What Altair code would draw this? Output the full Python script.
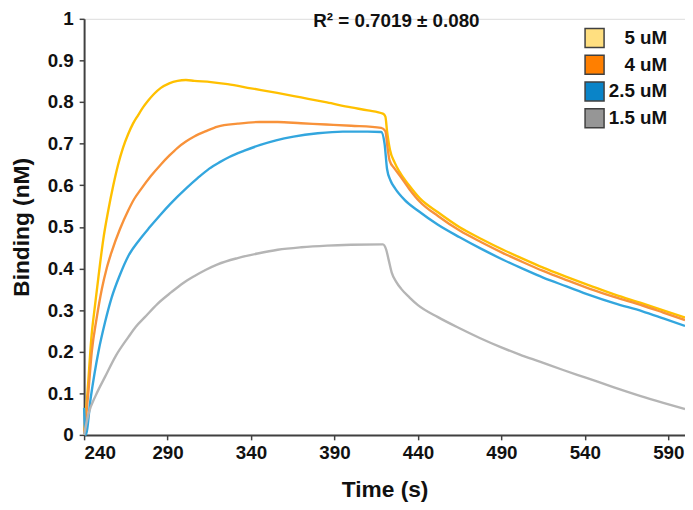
import altair as alt
import pandas as pd

series_names = ["5 uM", "4 uM", "2.5 uM", "1.5 uM"]
line_colors = ["#FFC000", "#F8923A", "#33A6DE", "#B5B5B5"]
legend_colors = ["#FFDF80", "#FF7F00", "#0A84C8", "#969696"]

t_5 = [240, 242, 244.5, 246.5, 248.6, 251.5, 254.5, 257.5, 260.4, 263.3, 266.3, 269.3, 272.3, 275.3, 278.3, 282, 286, 291, 296, 301, 306, 316, 326, 340, 355.7, 370, 385.5, 400, 410, 419, 420.5, 421.5, 423.2, 426, 429, 435, 441, 452, 465, 478, 491, 503, 515, 529, 543, 558, 574.5, 587, 600]
v_5 = [0, 0.1, 0.24, 0.31, 0.38, 0.47, 0.54, 0.6, 0.65, 0.69, 0.722, 0.748, 0.768, 0.787, 0.803, 0.82, 0.834, 0.845, 0.851, 0.853, 0.851, 0.848, 0.843, 0.833, 0.822, 0.811, 0.799, 0.787, 0.78, 0.772, 0.765, 0.73, 0.686, 0.655, 0.632, 0.598, 0.569, 0.535, 0.499, 0.471, 0.445, 0.423, 0.402, 0.38, 0.359, 0.337, 0.316, 0.299, 0.282]

t_4 = [240, 242.5, 244.6, 247.5, 250.6, 253.5, 256.5, 261.5, 266.5, 270, 274, 280, 286, 291, 296, 301, 306, 313, 320, 332, 345, 356, 370, 385, 400, 418, 420.5, 421.8, 423, 426, 429, 435, 441, 452, 465, 478, 491, 503, 515, 529, 543, 558, 574.5, 587, 600]
v_4 = [0, 0.1, 0.2, 0.28, 0.35, 0.4, 0.44, 0.495, 0.54, 0.567, 0.59, 0.622, 0.65, 0.671, 0.69, 0.705, 0.717, 0.73, 0.741, 0.748, 0.752, 0.752, 0.749, 0.746, 0.743, 0.738, 0.73, 0.69, 0.66, 0.64, 0.624, 0.59, 0.561, 0.526, 0.491, 0.463, 0.437, 0.415, 0.394, 0.372, 0.351, 0.331, 0.311, 0.294, 0.276]

t_25 = [240, 241, 244, 248.6, 252.5, 256.5, 261.5, 266.5, 273, 279.5, 285.5, 291.4, 301.3, 308, 315, 321, 327, 336, 345.6, 355, 365.5, 380, 395, 410, 418, 420, 421.5, 423.5, 426.4, 432, 440.3, 452, 465, 478, 491, 503, 515, 529, 543, 558, 574.5, 587, 600]
v_25 = [0.065, 0.0, 0.09, 0.2, 0.27, 0.33, 0.385, 0.43, 0.468, 0.5, 0.528, 0.554, 0.593, 0.617, 0.64, 0.655, 0.668, 0.683, 0.697, 0.708, 0.717, 0.725, 0.729, 0.729, 0.728, 0.7, 0.639, 0.612, 0.592, 0.565, 0.538, 0.505, 0.475, 0.447, 0.421, 0.399, 0.378, 0.357, 0.336, 0.316, 0.297, 0.28, 0.262]

t_15 = [240, 242.6, 247, 252.6, 259, 266.5, 271, 276.4, 284, 292.3, 299, 306.2, 313, 320, 332, 344, 356, 370, 385.5, 400, 419, 421, 422.5, 424.3, 427, 430, 435, 440, 452, 464, 477, 489.6, 501, 513, 527, 541, 557, 573, 587, 600]
v_15 = [0, 0.05, 0.095, 0.14, 0.19, 0.235, 0.26, 0.283, 0.315, 0.343, 0.364, 0.382, 0.397, 0.41, 0.425, 0.436, 0.445, 0.451, 0.455, 0.457, 0.458, 0.445, 0.42, 0.39, 0.368, 0.351, 0.33, 0.312, 0.283, 0.258, 0.233, 0.211, 0.193, 0.176, 0.156, 0.137, 0.115, 0.094, 0.077, 0.062]

x_ticks = [240, 290, 340, 390, 440, 490, 540, 590]
y_ticks = [0, 0.1, 0.2, 0.3, 0.4, 0.5, 0.6, 0.7, 0.8, 0.9, 1.0]
annotation = "R\u00b2 = 0.7019 \u00b1 0.080"

rows = []
for name, ts, vs in zip(series_names, [t_5, t_4, t_25, t_15], [v_5, v_4, v_25, v_15]):
    for t, v in zip(ts, vs):
        rows.append({"series": name, "time": t, "binding": v})
df = pd.DataFrame(rows)

FONT = "Liberation Sans"

x_enc = alt.X("time:Q", scale=alt.Scale(domain=[240, 600], nice=False, zero=False),
              axis=alt.Axis(values=x_ticks, title="Time (s)", grid=False,
                            labelFontSize=19, labelFontWeight="bold", labelFont=FONT,
                            titleFontSize=23, titleFontWeight="bold", titleFont=FONT,
                            titlePadding=16, labelPadding=4,
                            domainColor="#404040", domainWidth=2,
                            tickColor="#404040", tickSize=5, tickWidth=1.5,
                            labelColor="#111", titleColor="#111"))
y_enc = alt.Y("binding:Q", scale=alt.Scale(domain=[0, 1], nice=False),
              axis=alt.Axis(values=y_ticks, format=".1~f", title="Binding (nM)", grid=False,
                            labelFontSize=19, labelFontWeight="bold", labelFont=FONT,
                            titleFontSize=23, titleFontWeight="bold", titleFont=FONT,
                            titlePadding=14, labelPadding=6,
                            domainColor="#404040", domainWidth=2,
                            tickColor="#404040", tickSize=5, tickWidth=1.5,
                            labelColor="#111", titleColor="#111"))

lines = alt.Chart(df).mark_line(strokeWidth=2.4, interpolate="monotone").encode(
    x=x_enc,
    y=y_enc,
    color=alt.Color("series:N", scale=alt.Scale(domain=series_names, range=line_colors), legend=None),
    detail="series:N",
    order="time:Q",
)

legend_layer = alt.Chart(df).mark_square(filled=True, size=0).encode(
    x="time:Q",
    y="binding:Q",
    color=alt.Color("series:N", scale=alt.Scale(domain=series_names, range=legend_colors),
                    legend=alt.Legend(title=None, orient="none", legendX=506, legendY=9,
                                      symbolType="square", symbolSize=370, symbolOpacity=1,
                                      symbolStrokeColor="#404040", symbolStrokeWidth=1.5,
                                      labelFontSize=19, labelFontWeight="bold", labelFont=FONT,
                                      labelColor="#111", labelOffset=63, rowPadding=0,
                                      labelAlign="right", padding=0)),
)

text_df = pd.DataFrame({"label": [annotation]})
text = alt.Chart(text_df).mark_text(fontSize=19, fontWeight="bold", font=FONT, color="#111",
                                    align="center", baseline="middle").encode(
    x=alt.value(316), y=alt.value(2), text="label:N")

chart = alt.layer(lines, legend_layer, text).resolve_scale(color="independent").properties(
    width=608, height=421,
    autosize=alt.AutoSizeParams(type="none"),
    padding={"left": 77, "top": 8, "right": 0, "bottom": 70},
).configure_view(stroke=None).configure(background="white")

chart.save("out.html", embed_options={"renderer": "svg", "actions": False})
